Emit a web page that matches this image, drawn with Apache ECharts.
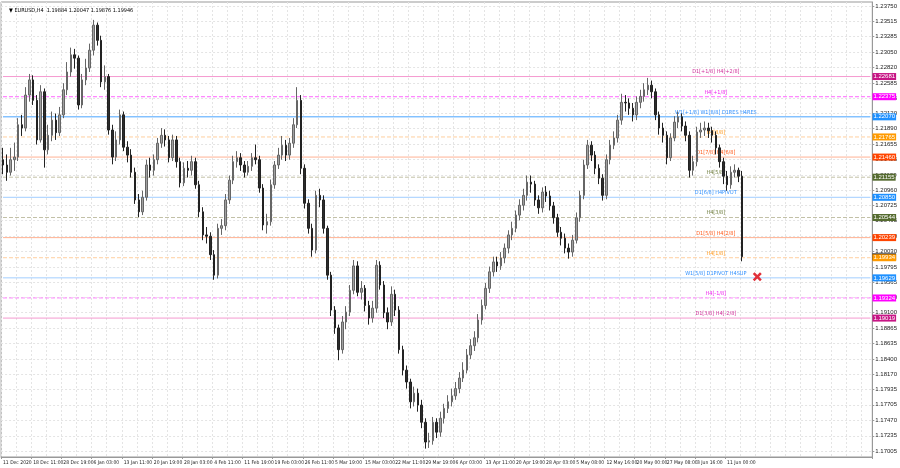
<!DOCTYPE html>
<html><head><meta charset="utf-8">
<script src="https://cdn.jsdelivr.net/npm/echarts@6/dist/echarts.min.js"></script>
<style>html,body{margin:0;padding:0;background:#fff}#c{width:900px;height:468px}</style>
</head><body><div id="c"></div>
<script>
const timeLabels = ["11 Dec 2020","18 Dec 11:00","28 Dec 19:00","6 Jan 03:00","13 Jan 11:00","20 Jan 19:00","28 Jan 03:00","4 Feb 11:00","11 Feb 19:00","19 Feb 03:00","26 Feb 11:00","5 Mar 19:00","15 Mar 03:00","22 Mar 11:00","29 Mar 19:00","6 Apr 03:00","13 Apr 11:00","20 Apr 19:00","28 Apr 03:00","5 May 08:00","12 May 16:00","20 May 00:00","27 May 08:00","3 Jun 16:00","11 Jun 00:00"];
const priceTicks = ["1.23750","1.23515","1.23285","1.23050","1.22820","1.22585","1.22355","1.22120","1.21890","1.21655","1.21425","1.21190","1.20960","1.20725","1.20495","1.20260","1.20030","1.19795","1.19565","1.19330","1.19100","1.18865","1.18635","1.18400","1.18170","1.17935","1.17705","1.17470","1.17235","1.17005"];
const opens = [1.2142,1.2134,1.2123,1.2142,1.2146,1.2195,1.2190,1.2240,1.2263,1.2232,
1.2172,1.2245,1.2157,1.2179,1.2202,1.2183,1.2210,1.2248,1.2275,1.2301,
1.2296,1.2225,1.2263,1.2281,1.2308,1.2346,1.2323,1.2260,1.2268,1.2187,
1.2146,1.2172,1.2210,1.2161,1.2149,1.2123,1.2081,1.2063,1.2085,1.2134,
1.2126,1.2142,1.2167,1.2179,1.2172,1.2145,1.2172,1.2139,1.2107,1.2129,
1.2126,1.2139,1.2104,1.2063,1.2028,1.2026,1.1998,1.1967,1.2038,1.2042,
1.2081,1.2111,1.2139,1.2145,1.2134,1.2123,1.2132,1.2145,1.2142,1.2099,
1.2043,1.2048,1.2104,1.2134,1.2149,1.2164,1.2149,1.2167,1.2195,1.2232,
1.2129,1.2076,1.2038,1.2005,1.2088,1.2081,1.2038,1.1967,1.1914,1.1887,
1.1854,1.1896,1.1911,1.1944,1.1981,1.1941,1.1947,1.1921,1.1902,1.1917,
1.1982,1.1952,1.1910,1.1896,1.1938,1.1914,1.1854,1.1823,1.1805,1.1775,
1.1788,1.1770,1.1744,1.1714,1.1716,1.1744,1.1729,1.1750,1.1765,1.1775,
1.1784,1.1795,1.1811,1.1823,1.1846,1.1860,1.1872,1.1899,1.1921,1.1947,
1.1972,1.1987,1.1981,1.1993,1.2008,1.2028,1.2038,1.2058,1.2073,1.2088,
1.2108,1.2105,1.2081,1.2069,1.2093,1.2087,1.2072,1.2054,1.2032,1.2023,
1.2008,1.2002,1.2020,1.2054,1.2088,1.2134,1.2164,1.2149,1.2129,1.2114,
1.2088,1.2142,1.2164,1.2175,1.2202,1.2229,1.2228,1.2220,1.2210,1.2229,
1.2238,1.2248,1.2255,1.2245,1.2210,1.2190,1.2179,1.2145,1.2175,1.2199,
1.2207,1.2193,1.2179,1.2126,1.2139,1.2184,1.2187,1.2190,1.2186,1.2179,
1.2160,1.2139,1.2117,1.2104,1.2123,1.2126,1.2117];
const closes = [1.2134,1.2123,1.2142,1.2146,1.2195,1.2190,1.2240,1.2263,1.2232,1.2172,
1.2245,1.2157,1.2179,1.2202,1.2183,1.2210,1.2248,1.2275,1.2301,1.2296,
1.2225,1.2263,1.2281,1.2308,1.2346,1.2323,1.2260,1.2268,1.2187,1.2146,
1.2172,1.2210,1.2161,1.2149,1.2123,1.2081,1.2063,1.2085,1.2134,1.2126,
1.2142,1.2167,1.2179,1.2172,1.2145,1.2172,1.2139,1.2107,1.2129,1.2126,
1.2139,1.2104,1.2063,1.2028,1.2026,1.1998,1.1967,1.2038,1.2042,1.2081,
1.2111,1.2139,1.2145,1.2134,1.2123,1.2132,1.2145,1.2142,1.2099,1.2043,
1.2048,1.2104,1.2134,1.2149,1.2164,1.2149,1.2167,1.2195,1.2232,1.2129,
1.2076,1.2038,1.2005,1.2088,1.2081,1.2038,1.1967,1.1914,1.1887,1.1854,
1.1896,1.1911,1.1944,1.1981,1.1941,1.1947,1.1921,1.1902,1.1917,1.1982,
1.1952,1.1910,1.1896,1.1938,1.1914,1.1854,1.1823,1.1805,1.1775,1.1788,
1.1770,1.1744,1.1714,1.1716,1.1744,1.1729,1.1750,1.1765,1.1775,1.1784,
1.1795,1.1811,1.1823,1.1846,1.1860,1.1872,1.1899,1.1921,1.1947,1.1972,
1.1987,1.1981,1.1993,1.2008,1.2028,1.2038,1.2058,1.2073,1.2088,1.2108,
1.2105,1.2081,1.2069,1.2093,1.2087,1.2072,1.2054,1.2032,1.2023,1.2008,
1.2002,1.2020,1.2054,1.2088,1.2134,1.2164,1.2149,1.2129,1.2114,1.2088,
1.2142,1.2164,1.2175,1.2202,1.2229,1.2228,1.2220,1.2210,1.2229,1.2238,
1.2248,1.2255,1.2245,1.2210,1.2190,1.2179,1.2145,1.2175,1.2199,1.2207,
1.2193,1.2179,1.2126,1.2139,1.2184,1.2187,1.2190,1.2186,1.2179,1.2160,
1.2139,1.2117,1.2104,1.2123,1.2126,1.2117,1.1995];
const lows = [1.2120,1.2110,1.2118,1.2125,1.2140,1.2178,1.2185,1.2230,1.2225,1.2165,
1.2168,1.2130,1.2150,1.2170,1.2172,1.2178,1.2205,1.2240,1.2268,1.2280,
1.2218,1.2220,1.2255,1.2275,1.2300,1.2315,1.2252,1.2248,1.2180,1.2135,
1.2140,1.2165,1.2155,1.2138,1.2115,1.2075,1.2055,1.2058,1.2080,1.2115,
1.2118,1.2135,1.2160,1.2162,1.2138,1.2140,1.2130,1.2100,1.2102,1.2115,
1.2118,1.2098,1.2055,1.2020,1.2015,1.1990,1.1960,1.1962,1.2028,1.2035,
1.2075,1.2105,1.2130,1.2125,1.2115,1.2118,1.2125,1.2135,1.2092,1.2035,
1.2030,1.2042,1.2098,1.2128,1.2142,1.2140,1.2142,1.2160,1.2190,1.2120,
1.2068,1.2030,1.1995,1.2000,1.2070,1.2030,1.1960,1.1905,1.1878,1.1838,
1.1848,1.1885,1.1905,1.1938,1.1935,1.1930,1.1912,1.1892,1.1895,1.1910,
1.1945,1.1902,1.1885,1.1890,1.1905,1.1848,1.1815,1.1795,1.1765,1.1768,
1.1760,1.1735,1.1704,1.1705,1.1710,1.1720,1.1722,1.1742,1.1758,1.1768,
1.1778,1.1788,1.1805,1.1818,1.1840,1.1852,1.1865,1.1892,1.1915,1.1940,
1.1965,1.1972,1.1975,1.1985,1.2000,1.2020,1.2032,1.2050,1.2065,1.2080,
1.2092,1.2072,1.2060,1.2062,1.2078,1.2065,1.2045,1.2025,1.2012,1.2000,
1.1992,1.1995,1.2015,1.2048,1.2082,1.2128,1.2140,1.2120,1.2105,1.2080,
1.2082,1.2135,1.2158,1.2168,1.2195,1.2215,1.2210,1.2200,1.2202,1.2220,
1.2230,1.2240,1.2235,1.2202,1.2180,1.2168,1.2135,1.2140,1.2170,1.2190,
1.2185,1.2170,1.2115,1.2118,1.2132,1.2175,1.2178,1.2175,1.2168,1.2150,
1.2130,1.2105,1.2095,1.2098,1.2115,1.2108,1.1988];
const highs = [1.2160,1.2150,1.2160,1.2168,1.2205,1.2210,1.2252,1.2272,1.2270,1.2240,
1.2255,1.2250,1.2195,1.2215,1.2212,1.2222,1.2258,1.2290,1.2312,1.2310,
1.2300,1.2272,1.2295,1.2318,1.2354,1.2350,1.2330,1.2285,1.2272,1.2195,
1.2185,1.2218,1.2215,1.2170,1.2158,1.2130,1.2090,1.2095,1.2142,1.2145,
1.2150,1.2175,1.2190,1.2188,1.2178,1.2180,1.2178,1.2145,1.2138,1.2140,
1.2148,1.2145,1.2110,1.2070,1.2040,1.2032,1.2005,1.2045,1.2052,1.2090,
1.2118,1.2148,1.2155,1.2152,1.2140,1.2140,1.2152,1.2165,1.2148,1.2105,
1.2060,1.2112,1.2140,1.2160,1.2178,1.2172,1.2175,1.2205,1.2252,1.2240,
1.2135,1.2082,1.2045,1.2095,1.2098,1.2088,1.2042,1.1972,1.1920,1.1892,
1.1905,1.1920,1.1952,1.1990,1.1988,1.1958,1.1952,1.1928,1.1928,1.1990,
1.1988,1.1958,1.1918,1.1950,1.1945,1.1920,1.1860,1.1830,1.1810,1.1798,
1.1795,1.1778,1.1750,1.1728,1.1752,1.1750,1.1760,1.1772,1.1785,1.1795,
1.1805,1.1820,1.1835,1.1855,1.1870,1.1882,1.1908,1.1930,1.1955,1.1980,
1.1995,1.1995,1.2002,1.2015,1.2035,1.2048,1.2065,1.2082,1.2098,1.2118,
1.2118,1.2110,1.2088,1.2100,1.2102,1.2095,1.2078,1.2060,1.2040,1.2030,
1.2015,1.2028,1.2062,1.2095,1.2142,1.2172,1.2170,1.2155,1.2135,1.2120,
1.2150,1.2172,1.2185,1.2210,1.2242,1.2240,1.2235,1.2228,1.2238,1.2248,
1.2258,1.2266,1.2262,1.2250,1.2215,1.2198,1.2185,1.2182,1.2208,1.2215,
1.2212,1.2200,1.2185,1.2148,1.2192,1.2198,1.2200,1.2198,1.2192,1.2185,
1.2165,1.2145,1.2125,1.2132,1.2135,1.2130,1.2125];
const levelPrices = [1.22681,1.22375,1.22070,1.21765,1.21460,1.21155,1.20850,1.20544,1.20239,1.19934,1.19629,1.19324,1.19019];
const levelNames = ["D1[+1/8] H4[+2/8]","H4[+1/8]","W1[+1/8] W1[8/8] D1RES H4RES","H4[8/8]","D1[7/8] H4[6/8]","H4[5/8]","D1[6/8] H4PIVOT","H4[3/8]","D1[5/8] H4[2/8]","H4[1/8]","W1[5/8] D1PIVOT H4SUP","H4[-1/8]","D1[3/8] H4[-2/8]"];
const currentPrice = 1.19946;
const signalPrice = 1.19645;
const headerText = "\u25BC EURUSD,H4  1.19884 1.20047 1.19876 1.19946";

// styles (kept apart from data)
const levelStyles = [
 {line:'#f59ad0',type:'solid',box:'#c71585',text:'#d0309a'},
 {line:'#ff66ff',type:'dashed',box:'#ff00ff',text:'#ee22ee'},
 {line:'#4aa5ff',type:'solid',box:'#1e90ff',text:'#2f8fff'},
 {line:'#ffcf9f',type:'dashed',box:'#ff9a00',text:'#ff9a20'},
 {line:'#ffb293',type:'solid',box:'#ff4500',text:'#ff5a1a'},
 {line:'#c2c0a6',type:'dashed',box:'#556b2f',text:'#6b7a3a'},
 {line:'#a2ceff',type:'solid',box:'#1e90ff',text:'#2f8fff'},
 {line:'#c2c0a6',type:'dashed',box:'#556b2f',text:'#6b7a3a'},
 {line:'#ffb293',type:'solid',box:'#ff4500',text:'#ff5a1a'},
 {line:'#ffcf9f',type:'dashed',box:'#ff9a00',text:'#ff9a20'},
 {line:'#a2ceff',type:'solid',box:'#1e90ff',text:'#2f8fff'},
 {line:'#ff88ff',type:'dashed',box:'#ff00ff',text:'#ee22ee'},
 {line:'#f59ad0',type:'solid',box:'#c71585',text:'#d0309a'}
];
const SLOTS = 231, PER_LABEL = 8, TEXT_SLOT = 189, SIGNAL_SLOT = 200;
const FONT = 'Liberation Sans, Arial, sans-serif';
const NARROW = 'DejaVu Sans Condensed, Liberation Sans Narrow, Liberation Sans, Arial, sans-serif';

const cats = [];
for (let i = 0; i < SLOTS; i++) {
  cats.push(i % PER_LABEL === 0 && i / PER_LABEL < timeLabels.length ? timeLabels[i / PER_LABEL] : '');
}
const candles = closes.map((c, i) => [opens[i], c, lows[i], highs[i]]);
const tickVals = priceTicks.map(Number);

function levelSeries(p, st, name) {
  const s = {
    type:'line', z:1, silent:true, symbol:'none', animation:false,
    lineStyle:{color:st.line, type:st.type, width:1},
    data:[[0, p], [SLOTS - 1, p]],
    endLabel:{show:true, formatter:p.toFixed(5), backgroundColor:st.box, color:'#fff', fontSize:6, fontFamily:FONT, padding:[1,1,0,1], distance:2}
  };
  if (name) {
    s.markPoint = {silent:true, animation:false, z:1, data:[{coord:[TEXT_SLOT, p], symbol:'circle', symbolSize:1,
      itemStyle:{color:'rgba(0,0,0,0)'},
      label:{show:true, position:'top', distance:1, formatter:name, color:st.text, fontSize:5.5, fontFamily:NARROW}}]};
  }
  return s;
}
const series = [];
series.push(levelSeries(currentPrice, {line:'rgba(0,0,0,0)', type:'solid', box:'#000', text:'#000'}, null));
levelPrices.forEach((p, k) => series.push(levelSeries(p, levelStyles[k], levelNames[k])));
series.push({type:'candlestick', data:candles, z:3, barWidth:2,
  itemStyle:{color:'#a0a0a0', color0:'#2c2c2c', borderColor:'#666', borderColor0:'#222', borderWidth:1}});
series.push({type:'line', data:[], z:4, silent:true,
  markPoint:{silent:true, animation:false, data:[{coord:[SIGNAL_SLOT, signalPrice], symbol:'path://M2,0 L5,3 L8,0 L10,2 L7,5 L10,8 L8,10 L5,7 L2,10 L0,8 L3,5 L0,2 Z', symbolSize:9, itemStyle:{color:'#e0303a'}, label:{show:false}}]}});

const chart = echarts.init(document.getElementById('c'), null, {renderer:'canvas'});
chart.setOption({
  animation:false,
  backgroundColor:'#ffffff',
  title:{text: headerText, left:4, top:3, textStyle:{fontSize:5.5, fontWeight:'normal', color:'#000', fontFamily:NARROW}},
  grid:{left:1, right:22, top:2, bottom:11, show:true, borderColor:'#999', borderWidth:1},
  xAxis:{type:'category', data:cats, boundaryGap:true,
    axisLine:{show:true, lineStyle:{color:'#999'}},
    axisTick:{show:true, length:2, interval:(i,v)=>v!=='', lineStyle:{color:'#999'}},
    axisLabel:{show:true, interval:(i,v)=>v!=='', showMinLabel:true, align:'left', fontSize:5, color:'#222', margin:3, fontFamily:NARROW, hideOverlap:false},
    splitLine:{show:true, interval:(i)=>i%4===0, lineStyle:{color:'#e4e4e4', type:[2,2]}}
  },
  yAxis:{type:'value', position:'right', min:1.16913, max:1.23811, scale:true,
    axisLine:{show:true, lineStyle:{color:'#999'}},
    axisTick:{show:true, length:2, customValues: tickVals, lineStyle:{color:'#999'}},
    axisLabel:{customValues: tickVals, formatter:(v)=>v.toFixed(5), fontSize:6, color:'#222', margin:3, fontFamily:FONT},
    splitLine:{show:true, lineStyle:{color:'#e4e4e4', type:[2,2]}}
  },
  series: series
});
</script></body></html>
